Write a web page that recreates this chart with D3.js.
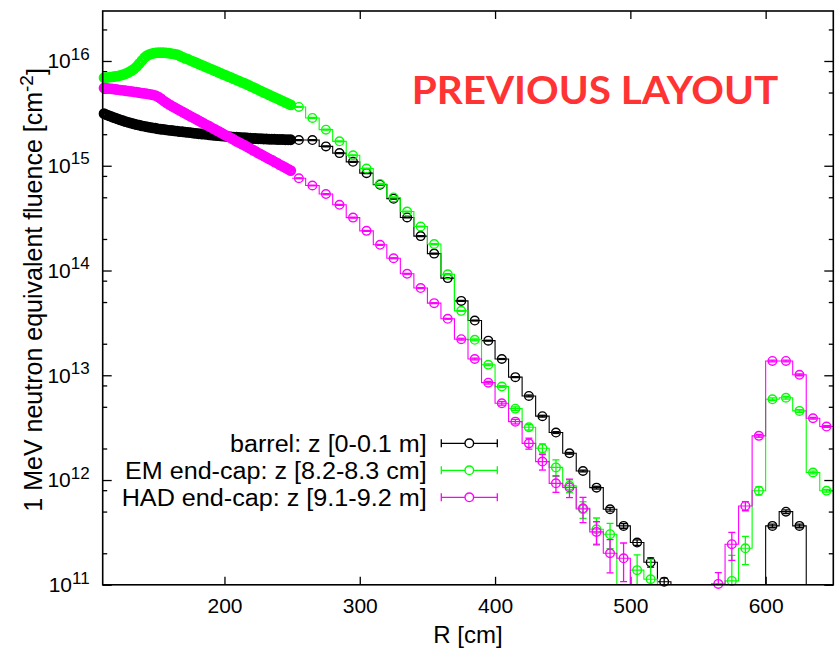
<!DOCTYPE html>
<html>
<head>
<meta charset="utf-8">
<script src="https://cdn.jsdelivr.net/npm/d3@7"></script>
<style>
  body { margin: 0; background: #fff; }
  svg { display: block; font-family: "Liberation Sans", Arial, Helvetica, sans-serif; }
</style>
</head>
<body>
<svg id="chart" width="836" height="649"></svg>
<script>
// ---- data -------------------------------------------------------------
// fine 2-cm bins (centres, cm)
const fineR = d3.range(111, 250, 2);
const barrelFine = [3.14,3.06,2.99,2.92,2.86,2.80,2.74,2.69,2.64,2.59,
  2.55,2.51,2.47,2.44,2.40,2.38,2.35,2.32,2.30,2.28,
  2.25,2.23,2.22,2.20,2.18,2.17,2.15,2.14,2.12,2.11,
  2.09,2.08,2.07,2.05,2.04,2.02,2.01,2.00,1.99,1.97,
  1.96,1.95,1.94,1.93,1.92,1.91,1.90,1.89,1.88,1.87,
  1.86,1.85,1.85,1.84,1.83,1.82,1.82,1.81,1.81,1.80,
  1.80,1.79,1.79,1.79,1.78,1.78,1.78,1.77,1.77,1.77].map(v => v * 1e15);
const emFine = [6.92,6.95,7.00,7.05,7.11,7.18,7.28,7.40,7.55,7.76,
  8.04,8.36,8.81,9.44,10.1,10.8,11.3,11.6,11.8,11.95,
  12.0,12.0,12.0,11.95,11.85,11.75,11.65,11.5,11.2,10.9,
  10.6,10.4,10.1,9.86,9.62,9.38,9.14,8.91,8.69,8.47,
  8.26,8.05,7.85,7.66,7.46,7.28,7.10,6.92,6.75,6.58,
  6.41,6.25,6.10,5.93,5.77,5.61,5.46,5.31,5.16,5.02,
  4.89,4.75,4.62,4.50,4.38,4.26,4.14,4.03,3.92,3.81].map(v => v * 1e15);
const hadFine = [5.52,5.48,5.45,5.41,5.37,5.32,5.28,5.25,5.20,5.16,
  5.12,5.08,5.04,4.99,4.94,4.90,4.85,4.81,4.75,4.68,
  4.55,4.37,4.17,4.00,3.85,3.72,3.60,3.48,3.37,3.27,
  3.16,3.06,2.96,2.87,2.78,2.69,2.61,2.52,2.44,2.37,
  2.29,2.22,2.15,2.08,2.01,1.95,1.89,1.83,1.77,1.71,
  1.66,1.61,1.56,1.51,1.46,1.41,1.37,1.32,1.28,1.24,
  1.20,1.16,1.13,1.09,1.06,1.02,0.991,0.960,0.929,0.899].map(v => v * 1e15);

// coarse 10-cm bins (centres, cm); null = below the plotted range
const coarseR = d3.range(255, 650, 10);
const barrelCoarse = [1.76e15,1.76e15,1.53e15,1.32e15,1.09e15,8.5e14,6.6e14,4.85e14,3.21e14,2.13e14,
  1.45e14,8.46e13,5.13e13,3.33e13,2.14e13,1.43e13,9.6e12,6.35e12,4.07e12,2.84e12,
  1.8e12,1.22e12,8.46e11,5.26e11,3.65e11,2.53e11,1.64e11,1.07e11,null,null,
  null,null,null,null,null,3.65e11,4.99e11,3.65e11,null,null];
const barrelErr = [0.01,0.01,0.01,0.01,0.01,0.01,0.01,0.01,0.01,0.01,
  0.01,0.01,0.01,0.01,0.01,0.01,0.01,0.02,0.02,0.02,
  0.02,0.02,0.03,0.04,0.05,0.06,0.10,0.08,0,0,
  0,0,0,0,0,0.04,0.04,0.04,0,0];
const emCoarse = [3.64e15,2.86e15,2.21e15,1.71e15,1.26e15,9.4e14,6.7e14,4.98e14,3.66e14,2.63e14,
  1.79e14,9.2e13,4.12e13,2.18e13,1.26e13,7.8e12,4.8e12,3.19e12,2.01e12,1.32e12,
  8.8e11,5.26e11,3.39e11,3.04e11,null,1.38e11,1.13e11,null,null,null,
  null,null,1.09e11,2.23e11,7.9e11,5.9e12,6.1e12,4.57e12,1.18e12,7.9e11];
const emErr = [0.01,0.01,0.01,0.01,0.01,0.01,0.01,0.01,0.01,0.01,
  0.01,0.01,0.01,0.02,0.02,0.02,0.04,0.06,0.10,0.18,
  0.14,0.18,0.28,0.27,0,0.40,0.55,0,0,0,
  0,0,0.75,0.30,0.09,0.03,0.03,0.03,0.03,0.03];
const hadCoarse = [7.6e14,6.48e14,5.37e14,4.24e14,3.2e14,2.39e14,1.76e14,1.31e14,9.3e13,6.8e13,
  4.88e13,3.46e13,2.21e13,1.43e13,8.5e12,5.4e12,3.61e12,2.24e12,1.5e12,9.3e11,
  8.5e11,5.38e11,3.2e11,2.0e11,1.79e11,null,null,null,null,null,
  null,1.02e11,2.44e11,5.66e11,2.64e12,1.37e13,1.37e13,1.01e13,3.89e12,3.24e12];
const hadErr = [0.01,0.01,0.01,0.01,0.01,0.01,0.01,0.01,0.01,0.01,
  0.01,0.01,0.02,0.02,0.03,0.04,0.05,0.12,0.17,0.18,
  0.20,0.27,0.25,0.35,0.40,0,0,0,0,0,
  0,0.28,0.30,0.10,0.03,0.02,0.02,0.02,0.02,0.02];

const seriesNames = ["barrel: z [0-0.1 m]", "EM end-cap: z [8.2-8.3 cm]", "HAD end-cap: z [9.1-9.2 m]"];
const seriesColors = ["#000000", "#00ff00", "#ff00ff"];
const xTicks = [200, 300, 400, 500, 600];
const yTicks = [1e11, 1e12, 1e13, 1e14, 1e15, 1e16];
const yMinorTicks = [];
for (let e = 11; e <= 16; e++) [2, 5, 8].forEach(m => { if (m * Math.pow(10, e) < 3e16) yMinorTicks.push(m * Math.pow(10, e)); });
const binWidth = 10;

// ---- layout -------------------------------------------------------------
const plot = { left: 102.7, right: 833.3, top: 11, bottom: 584.8 };
const svg = d3.select("#chart");
const x = d3.scaleLinear().domain([110, 650]).range([plot.left, plot.right]);
const y = d3.scaleLog().domain([1e11, 3e16]).range([plot.bottom, plot.top]);

svg.append("defs").append("clipPath").attr("id", "plotClip")
  .append("rect")
  .attr("x", plot.left).attr("y", plot.top)
  .attr("width", plot.right - plot.left).attr("height", plot.bottom - plot.top);

// ---- axes ---------------------------------------------------------------
function styleAxis(g) {
  g.select(".domain").remove();
  g.attr("font-family", null).attr("font-size", null);
  g.selectAll(".tick line").attr("stroke", "#000").attr("stroke-width", 1.3);
}
svg.append("g").attr("transform", `translate(0,${plot.bottom})`)
  .call(d3.axisBottom(x).tickValues(xTicks).tickSizeInner(-8).tickSizeOuter(0).tickPadding(13).tickFormat(d3.format("d")))
  .call(styleAxis)
  .selectAll("text").attr("font-size", 21).attr("fill", "#000");
svg.append("g").attr("transform", `translate(0,${plot.top})`)
  .call(d3.axisTop(x).tickValues(xTicks).tickSizeInner(-8).tickSizeOuter(0).tickFormat(""))
  .call(styleAxis);

const yLeft = svg.append("g").attr("transform", `translate(${plot.left},0)`)
  .call(d3.axisLeft(y).tickValues(yTicks).tickSizeInner(-9).tickSizeOuter(0).tickPadding(13).tickFormat(() => "10"))
  .call(styleAxis);
yLeft.selectAll(".tick text")
  .attr("font-size", 21).attr("fill", "#000")
  .each(function(d) {
    d3.select(this).append("tspan")
      .attr("dy", "-0.5em").attr("font-size", 17)
      .text(Math.round(Math.log10(d)));
  });
svg.append("g").attr("transform", `translate(${plot.left},0)`)
  .call(d3.axisLeft(y).tickValues(yMinorTicks).tickSizeInner(-4.5).tickSizeOuter(0).tickFormat(""))
  .call(styleAxis);
svg.append("g").attr("transform", `translate(${plot.right},0)`)
  .call(d3.axisRight(y).tickValues(yTicks).tickSizeInner(-9).tickSizeOuter(0).tickFormat(""))
  .call(styleAxis);
svg.append("g").attr("transform", `translate(${plot.right},0)`)
  .call(d3.axisRight(y).tickValues(yMinorTicks).tickSizeInner(-4.5).tickSizeOuter(0).tickFormat(""))
  .call(styleAxis);

// ---- data layers ----------------------------------------------------------
const below = plot.bottom + 40;
const yOr = v => (v == null ? below : y(v));
const series = [
  { fine: barrelFine, coarse: barrelCoarse, err: barrelErr },
  { fine: emFine, coarse: emCoarse, err: emErr },
  { fine: hadFine, coarse: hadCoarse, err: hadErr }
];

series.forEach((s, k) => {
  const col = seriesColors[k];
  const g = svg.append("g");

  // fine bins: open circles packed so closely that they merge into a band
  g.append("g").selectAll("circle").data(fineR.map((r, i) => [r, s.fine[i]]))
    .join("circle")
    .attr("cx", d => x(d[0])).attr("cy", d => y(d[1]))
    .attr("r", 3.8).attr("fill", "none").attr("stroke", col).attr("stroke-width", 3.2);

  // coarse bins: histogram steps
  const stepPts = [];
  coarseR.forEach((r, i) => {
    stepPts.push([r - binWidth / 2, s.coarse[i]]);
    stepPts.push([r + binWidth / 2, s.coarse[i]]);
  });
  g.append("path")
    .attr("clip-path", "url(#plotClip)")
    .attr("d", d3.line().x(d => x(d[0])).y(d => yOr(d[1]))(stepPts))
    .attr("fill", "none").attr("stroke", col).attr("stroke-width", 1.1);

  const pts = coarseR.map((r, i) => ({ r, v: s.coarse[i], e: s.err[i] })).filter(d => d.v != null);

  // error bars
  const eb = g.append("g").attr("clip-path", "url(#plotClip)")
    .attr("stroke", col).attr("stroke-width", 1.3).attr("fill", "none");
  pts.filter(d => d.e > 0).forEach(d => {
    const lo = d.v * (1 - d.e), hi = d.v * (1 + d.e);
    const yl = lo > 0 ? y(lo) : below, yh = y(hi), cx = x(d.r);
    eb.append("line").attr("x1", cx).attr("x2", cx).attr("y1", yl).attr("y2", yh);
    eb.append("line").attr("x1", cx - 3.5).attr("x2", cx + 3.5).attr("y1", yh).attr("y2", yh);
    eb.append("line").attr("x1", cx - 3.5).attr("x2", cx + 3.5).attr("y1", yl).attr("y2", yl);
  });

  g.append("g").selectAll("circle").data(pts).join("circle")
    .attr("cx", d => x(d.r)).attr("cy", d => y(d.v))
    .attr("r", 4.3).attr("fill", "none").attr("stroke", col).attr("stroke-width", 1.4);
});

// ---- frame ----------------------------------------------------------------
svg.append("rect")
  .attr("x", plot.left).attr("y", plot.top)
  .attr("width", plot.right - plot.left).attr("height", plot.bottom - plot.top)
  .attr("fill", "none").attr("stroke", "#000").attr("stroke-width", 1.6);

// ---- legend ---------------------------------------------------------------
const legend = svg.append("g");
const legendWidths = [196.7, 301.7, 305];
seriesNames.forEach((name, i) => {
  const ly = 443.3 + 27 * i;
  legend.append("text")
    .attr("x", 426.7).attr("y", ly + 8.5)
    .attr("text-anchor", "end").attr("font-size", 23)
    .attr("textLength", legendWidths[i]).attr("lengthAdjust", "spacingAndGlyphs")
    .text(name);
  const c = seriesColors[i];
  legend.append("line").attr("x1", 441.3).attr("x2", 497.3).attr("y1", ly).attr("y2", ly)
    .attr("stroke", c).attr("stroke-width", 1.3);
  [441.3, 497.3].forEach(ex => legend.append("line")
    .attr("x1", ex).attr("x2", ex).attr("y1", ly - 4).attr("y2", ly + 4)
    .attr("stroke", c).attr("stroke-width", 1.3));
  legend.append("circle").attr("cx", 469.3).attr("cy", ly).attr("r", 4.3)
    .attr("fill", "#fff").attr("stroke", c).attr("stroke-width", 1.4);
});

// ---- labels ---------------------------------------------------------------
svg.append("text")
  .attr("x", (plot.left + plot.right) / 2).attr("y", 643)
  .attr("text-anchor", "middle").attr("font-size", 24)
  .text("R [cm]");

const yl = svg.append("text")
  .attr("transform", `translate(42,${(plot.top + plot.bottom) / 2 - 8}) rotate(-90)`)
  .attr("text-anchor", "middle").attr("font-size", 25);
yl.append("tspan").text("1 MeV neutron equivalent fluence [cm");
yl.append("tspan").attr("dy", "-0.45em").attr("font-size", 19).text("-2");
yl.append("tspan").attr("dy", "0.45em").text("]");

svg.append("text")
  .attr("x", 411.7).attr("y", 104)
  .style("font-family", "Lato, 'Open Sans', sans-serif").style("font-weight", 700)
  .attr("font-size", 39).attr("textLength", 366.6).attr("lengthAdjust", "spacingAndGlyphs")
  .style("fill", "#ff3333")
  .text("PREVIOUS LAYOUT");
</script>
</body>
</html>
